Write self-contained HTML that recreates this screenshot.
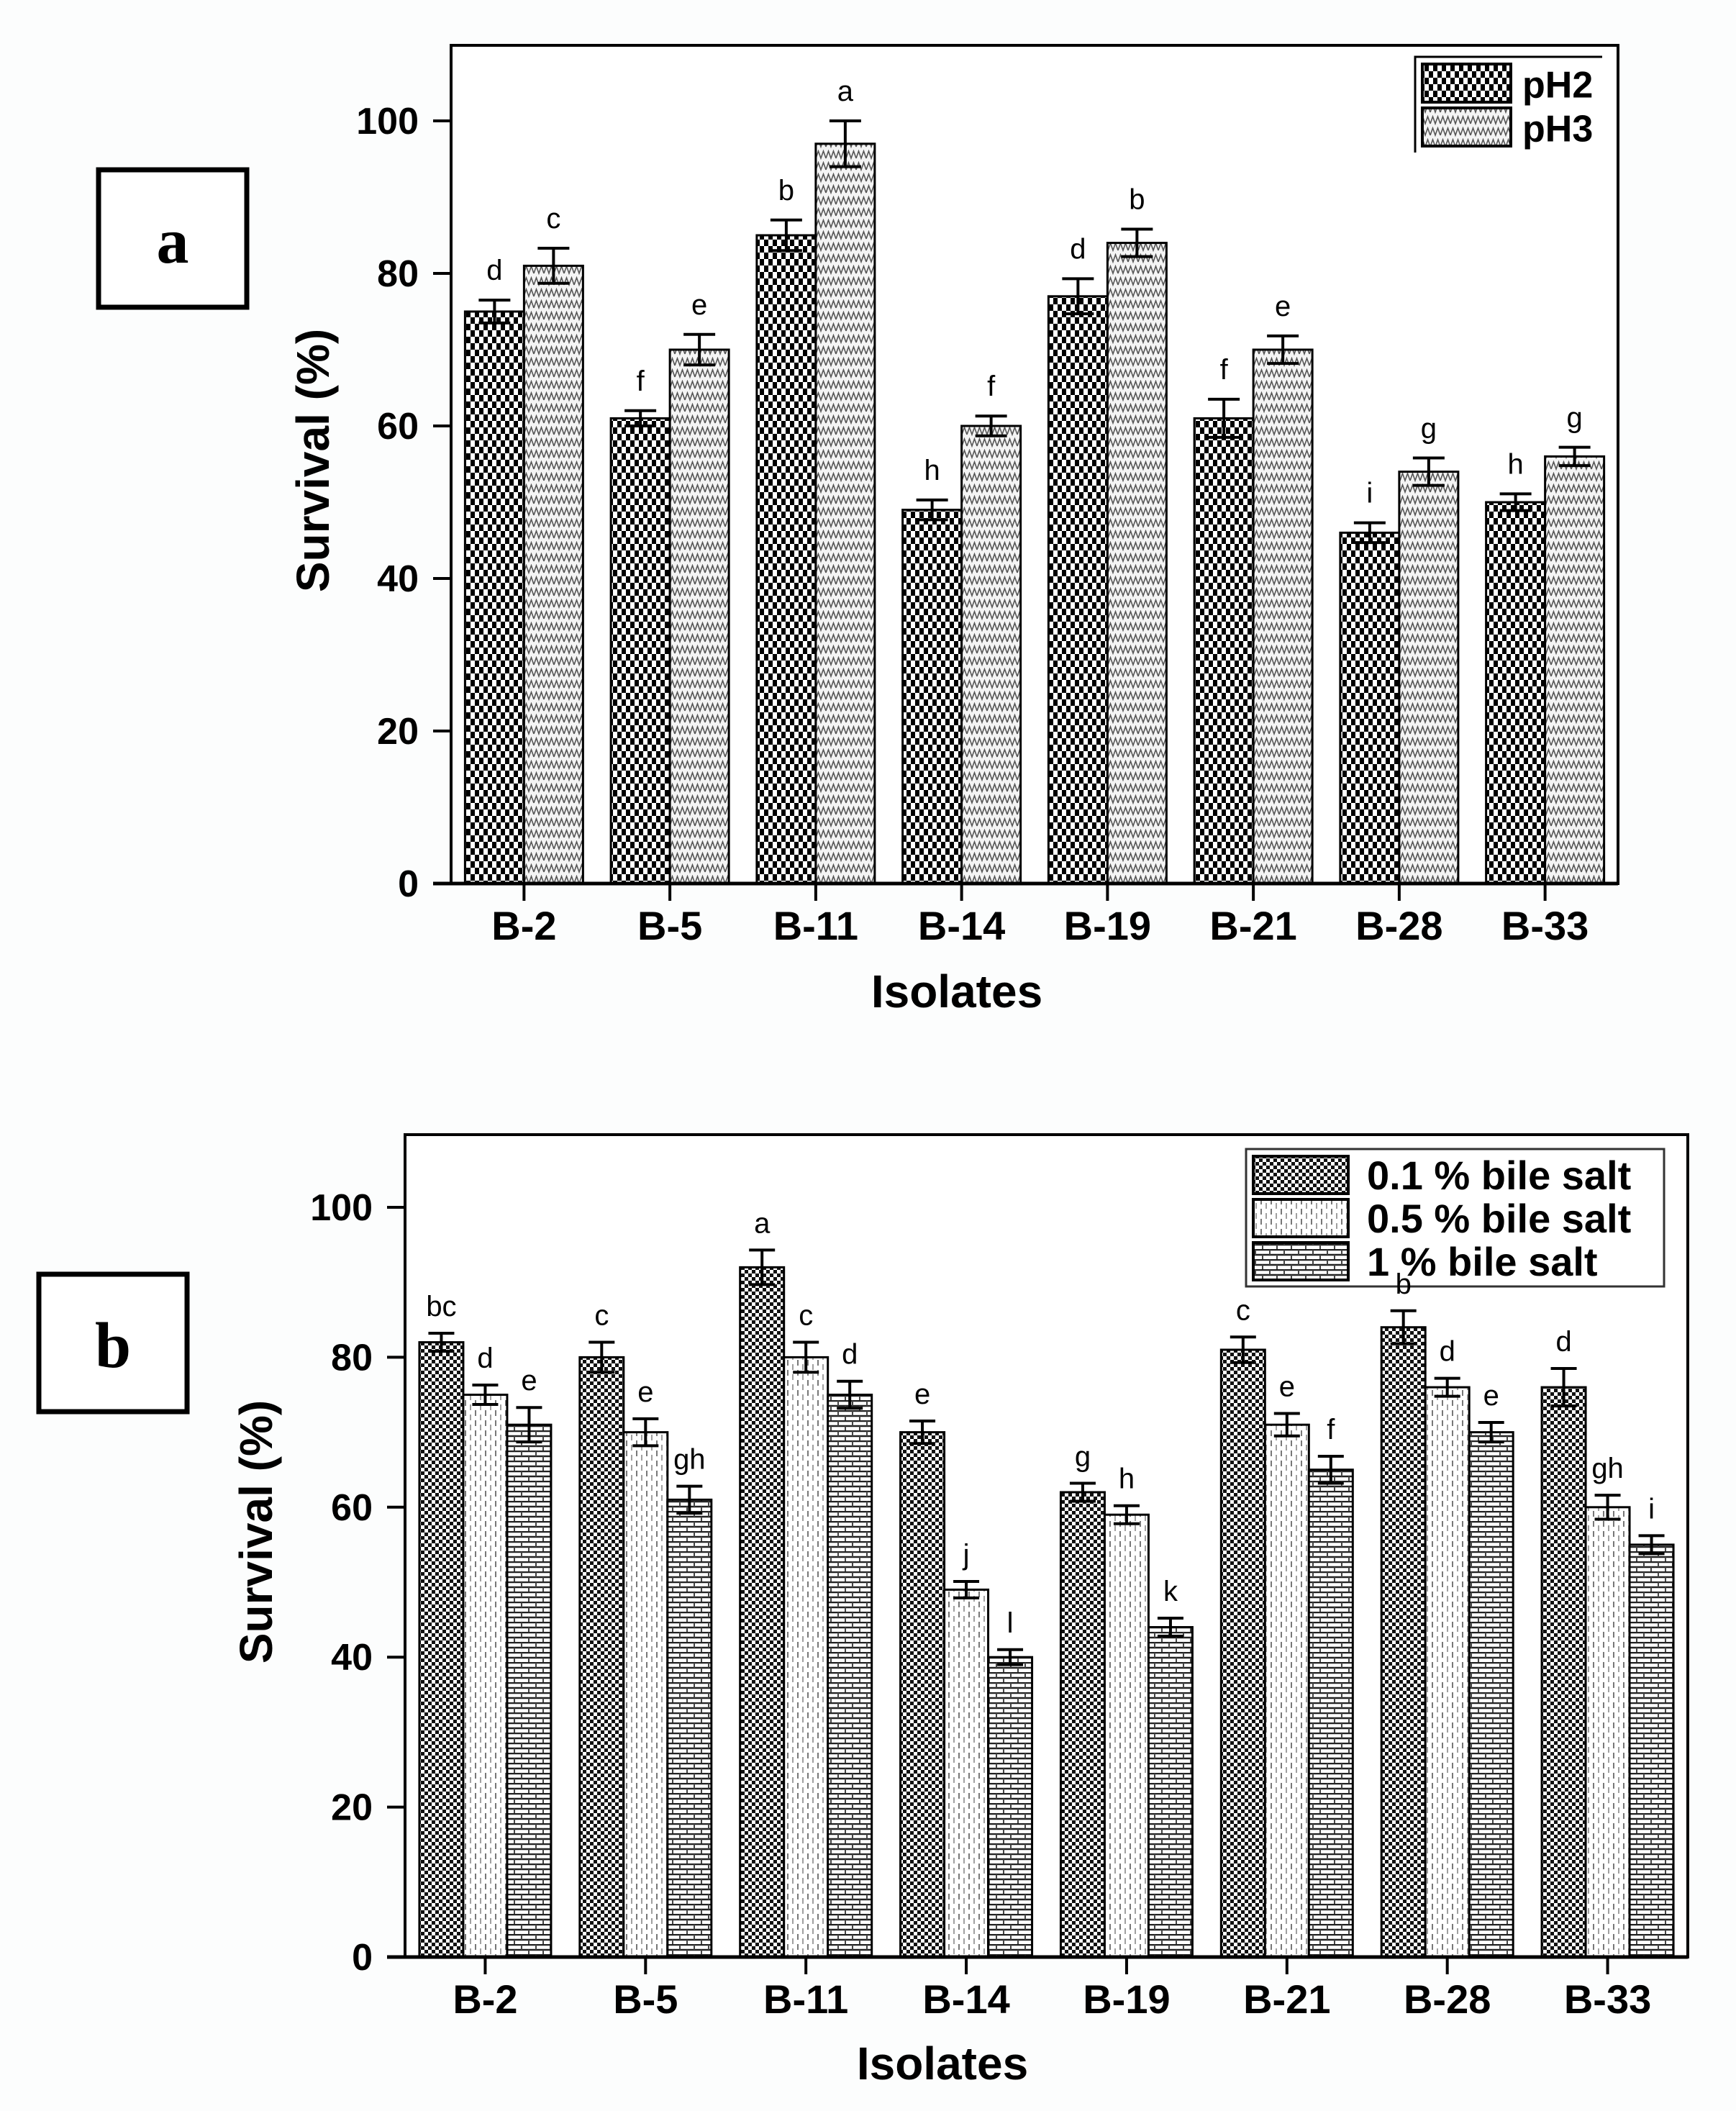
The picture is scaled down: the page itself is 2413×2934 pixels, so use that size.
<!DOCTYPE html>
<html><head><meta charset="utf-8"><style>
html,body{margin:0;padding:0;background:#fff;}
svg{display:block;}
text{font-family:"Liberation Sans",Arial,sans-serif;}
</style></head><body>
<svg id="fig" width="2413" height="2934" viewBox="0 0 2413 2934" xmlns="http://www.w3.org/2000/svg">
<defs>
<pattern id="pCheck" width="12" height="18" patternUnits="userSpaceOnUse">
<rect width="12" height="18" fill="#fff"/><rect x="0" y="0" width="6" height="9" fill="#000"/><rect x="6" y="9" width="6" height="9" fill="#000"/>
</pattern>
<pattern id="pZig" width="14" height="16" patternUnits="userSpaceOnUse">
<rect width="14" height="16" fill="#f4f4f4"/><polyline points="0,12 3.5,2 7,12 10.5,2 14,12" fill="none" stroke="#555" stroke-width="1.6"/>
</pattern>
<pattern id="pFine" width="10" height="10" patternUnits="userSpaceOnUse">
<rect width="10" height="10" fill="#fff"/><rect width="5" height="5" fill="#111"/><rect x="5" y="5" width="5" height="5" fill="#111"/>
</pattern>
<pattern id="pDash" width="14" height="14" patternUnits="userSpaceOnUse">
<rect width="14" height="14" fill="#fff"/><line x1="3" y1="0" x2="3" y2="8" stroke="#555" stroke-width="1.6"/><line x1="10" y1="6" x2="10" y2="14" stroke="#888" stroke-width="1.6"/>
</pattern>
<pattern id="pBrick" width="20" height="14" patternUnits="userSpaceOnUse">
<rect width="20" height="14" fill="#fff"/><line x1="0" y1="1" x2="20" y2="1" stroke="#222" stroke-width="2.5"/><line x1="0" y1="8" x2="20" y2="8" stroke="#222" stroke-width="2.5"/><line x1="5" y1="1" x2="5" y2="8" stroke="#444" stroke-width="2"/><line x1="15" y1="8" x2="15" y2="14" stroke="#444" stroke-width="2"/>
</pattern>
</defs>
<rect x="0" y="0" width="2413" height="2934" fill="#fcfdfd"/>
<g id="chartA"></g>
<g id="chartB"></g>
<rect x="137" y="236" width="206" height="191" fill="#fff" stroke="#000" stroke-width="7"/>
<text x="240" y="365" text-anchor="middle" font-size="90" font-weight="bold" style="font-family:'Liberation Serif',serif">a</text>
<rect x="54" y="1771" width="206" height="191" fill="#fff" stroke="#000" stroke-width="7"/>
<text x="157" y="1900" text-anchor="middle" font-size="90" font-weight="bold" style="font-family:'Liberation Serif',serif">b</text>
</svg>
<script>
const categories=["B-2","B-5","B-11","B-14","B-19","B-21","B-28","B-33"];
const yTicks=[0,20,40,60,80,100];
const aNames=["pH2","pH3"];
const aPH2=[75,61,85,49,77,61,46,50];
const aPH3=[81,70,97,60,84,70,54,56];
const aErrPH2=[1.5,1.0,2.0,1.3,2.3,2.5,1.3,1.1];
const aErrPH3=[2.3,2.0,3.0,1.3,1.8,1.8,1.8,1.2];
const aLetPH2=["d","f","b","h","d","f","i","h"];
const aLetPH3=["c","e","a","f","b","e","g","g"];
const bNames=["0.1 % bile salt","0.5 % bile salt","1 % bile salt"];
const b01=[82,80,92,70,62,81,84,76];
const b05=[75,70,80,49,59,71,76,60];
const b1=[71,61,75,40,44,65,70,55];
const bErr01=[1.2,2.0,2.3,1.5,1.2,1.7,2.2,2.5];
const bErr05=[1.3,1.8,2.0,1.1,1.2,1.5,1.2,1.6];
const bErr1=[2.3,1.8,1.8,1.0,1.2,1.8,1.3,1.2];
const bLet01=["bc","c","a","e","g","c","b","d"];
const bLet05=["d","e","c","j","h","e","d","gh"];
const bLet1=["e","gh","d","l","k","f","e","i"];

const NS="http://www.w3.org/2000/svg";
function mk(parent,tag,attrs){const e=document.createElementNS(NS,tag);for(const k in attrs)e.setAttribute(k,attrs[k]);parent.appendChild(e);return e;}

function drawChart(g,cfg){
  const {L,R,T,y0,y100}=cfg;
  const ys=v=>y0-(y0-y100)*v/100;
  const step=(R-L)/categories.length;
  const xc=i=>L+step*(i+0.5);
  let fr=mk(g,'rect',{x:L,y:T,width:R-L,height:y0-T,fill:'#fff',stroke:'#000','stroke-width':4});
  
  
  const lg=cfg.leg;
  if(lg.open){
    const lb=mk(g,'path',{d:`M${lg.x} ${lg.y+lg.h}V${lg.y}H${lg.x+lg.w}`,fill:'none',stroke:'#000','stroke-width':3});
    
    
  } else {
    const lb=mk(g,'rect',{x:lg.x,y:lg.y,width:lg.w,height:lg.h,fill:'#fff',stroke:'#333','stroke-width':3});
    
    
  }
  cfg.series.forEach((s,si)=>{
    const yy=lg.y+10+si*lg.row;
    const sw=mk(g,'rect',{x:lg.x+10,y:yy,width:lg.sw,height:lg.row-8,fill:'url(#'+s.pat+')',stroke:'#000','stroke-width':4});
    
    
    const t=mk(g,'text',{x:lg.x+lg.sw+lg.tg,y:yy+lg.row/2+16,'font-size':lg.fs,'font-weight':'bold'});
    t.textContent=s.name;
    
    
  });
  const n=cfg.series.length;
  cfg.series.forEach((s,si)=>{
    categories.forEach((c,i)=>{
      const x=xc(i)-cfg.bw*n/2+si*cfg.bw;
      const v=s.vals[i];
      const r=mk(g,'rect',{x:x,y:ys(v),width:cfg.bw,height:y0-ys(v),fill:'url(#'+s.pat+')',stroke:'#000','stroke-width':3});
      
      
      const cx=x+cfg.bw/2,e=s.err[i];
      const eb=mk(g,'path',{d:`M${cx} ${ys(v+e)}V${ys(v-e)}M${cx-cfg.cap} ${ys(v+e)}H${cx+cfg.cap}M${cx-cfg.cap} ${ys(v-e)}H${cx+cfg.cap}`,stroke:'#000','stroke-width':4,fill:'none'});
      
      
      const t=mk(g,'text',{x:cx,y:ys(v+e)-cfg.lgap,'text-anchor':'middle','font-size':40});
      t.textContent=s.lets[i];
      
      
    });
  });
  yTicks.forEach(v=>{
    const tk=mk(g,'line',{x1:L-25,x2:L,y1:ys(v),y2:ys(v),stroke:'#000','stroke-width':4});
    
    
    const t=mk(g,'text',{x:L-45,y:ys(v)+18,'text-anchor':'end','font-size':52,'font-weight':'bold'});
    t.textContent=v;
    
    
  });
  const ax=mk(g,'line',{x1:L-25,x2:R,y1:y0,y2:y0,stroke:'#000','stroke-width':5});
  
  
  categories.forEach((c,i)=>{
    const tk=mk(g,'line',{x1:xc(i),x2:xc(i),y1:y0,y2:y0+24,stroke:'#000','stroke-width':4});
    
    
    const t=mk(g,'text',{x:xc(i),y:cfg.xlabY,'text-anchor':'middle','font-size':56,'font-weight':'bold'});
    t.textContent=c;
    
    
  });
  const yt=mk(g,'text',{x:0,y:0,transform:`translate(${cfg.ytX},${cfg.ytY}) rotate(-90)`,'text-anchor':'middle','font-size':64,'font-weight':'bold'});
  yt.textContent='Survival (%)';
  
  
  const xt=mk(g,'text',{x:cfg.xtX,y:cfg.xtY,'text-anchor':'middle','font-size':64,'font-weight':'bold'});
  xt.textContent='Isolates';
  
  
}

drawChart(document.getElementById('chartA'),{L:627,R:2249,T:63,y0:1228,y100:168,bw:82,cap:22,lgap:28,xlabY:1306,ytX:457,ytY:640,xtX:1330,xtY:1400,
  series:[{key:'ph2',name:aNames[0],vals:aPH2,err:aErrPH2,lets:aLetPH2,pat:'pCheck'},{key:'ph3',name:aNames[1],vals:aPH3,err:aErrPH3,lets:aLetPH3,pat:'pZig'}],
  leg:{x:1967,y:79,w:260,h:133,row:61,sw:123,fs:52,tg:26,open:true}});
drawChart(document.getElementById('chartB'),{L:563,R:2346,T:1577,y0:2720,y100:1678,bw:61,cap:18,lgap:24,xlabY:2798,ytX:378,ytY:2129,xtX:1310,xtY:2890,
  series:[{key:'bile01',name:bNames[0],vals:b01,err:bErr01,lets:bLet01,pat:'pFine'},{key:'bile05',name:bNames[1],vals:b05,err:bErr05,lets:bLet05,pat:'pDash'},{key:'bile1',name:bNames[2],vals:b1,err:bErr1,lets:bLet1,pat:'pBrick'}],
  leg:{x:1732,y:1597,w:581,h:191,row:60,sw:132,fs:56,tg:36,open:false}});
</script>
</body></html>
